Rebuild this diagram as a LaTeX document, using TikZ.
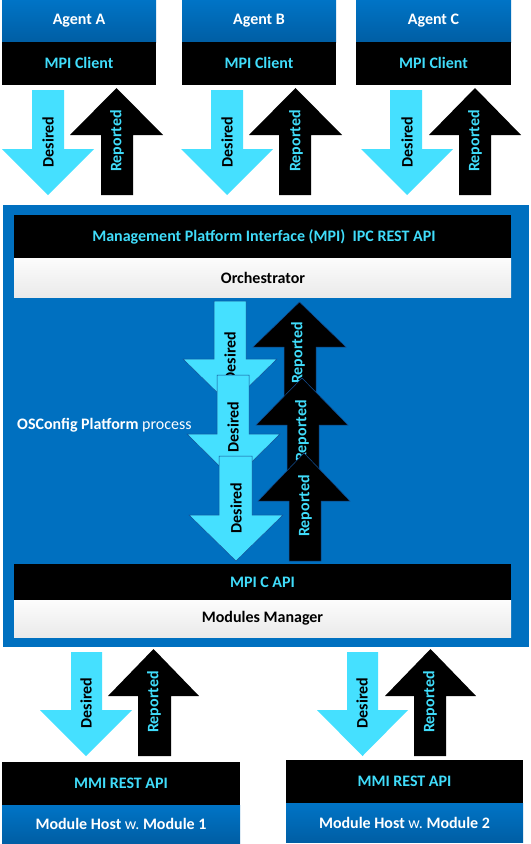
\documentclass[tikz,border=0pt]{standalone}
\usepackage{fontspec}
\setmainfont{Carlito}
\usetikzlibrary{shapes.arrows}
\definecolor{boxblueT}{RGB}{0,116,198}
\definecolor{boxblueB}{RGB}{0,94,164}
\definecolor{platblue}{RGB}{0,112,192}
\definecolor{cyanA}{RGB}{69,224,255}
\definecolor{cyanT}{RGB}{64,220,250}
\definecolor{lightT}{RGB}{252,252,252}
\definecolor{lightB}{RGB}{234,234,234}
\definecolor{edgeblue}{RGB}{20,80,150}
\newcommand{\fs}{\fontsize{16bp}{19bp}\selectfont\bfseries}
\tikzset{
  bluebox/.style={top color=boxblueT, bottom color=boxblueB, draw=none},
  blackbox/.style={fill=black, draw=none},
  lightbox/.style={top color=lightT, bottom color=lightB, draw=none},
  lbl/.style={font=\fs, inner sep=0pt},
  desired/.style={fill=cyanA},
  reported/.style={fill=black},
  arrowedge/.style={draw=edgeblue, line width=0.5pt},
  dlabel/.style={font=\fs, text=black, rotate=90, inner sep=0pt},
  rlabel/.style={font=\fs, text=cyanT, rotate=90, inner sep=0pt}
}
% block arrow: shaft x1..x2, shaft end y, head base y, head xl..xr, tip y
\newcommand{\blockarr}[9][]{%
  \path[#1] (#2,#4) -- (#3,#4) -- (#3,#5) -- (#7,#5) -- ({(#6+#7)/2},#8) -- (#6,#5) -- (#2,#5) -- cycle;}
\begin{document}
\begin{tikzpicture}[x=1bp,y=-1bp]
\useasboundingbox[fill=white] (0,0) rectangle (531,844);

% ---- top agents
\foreach \nm/\xa/\xb/\lt in {A/2/156/Agent A, B/182/336/Agent B, C/356/511/Agent C}{
  \path[bluebox] (\xa,0) rectangle (\xb,42);
  \path[blackbox] (\xa,42) rectangle (\xb,85);
  \node[lbl, text=white] (agent\nm) at ({(\xa+\xb)/2},21) {\lt};
  \node[lbl, text=cyanT] (client\nm) at ({(\xa+\xb)/2},63) {MPI Client};
}

% ---- top arrows
\blockarr[desired]{32}{64}{90}{149}{2}{94}{195}{}
\blockarr[reported]{101}{133}{195}{135}{70}{163}{88}{}
\node[dlabel] (dA) at (48,142) {Desired};
\node[rlabel] (rA) at (117,141) {Reported};

\blockarr[desired]{211}{243}{90}{149}{181}{273}{195}{}
\blockarr[reported]{279}{311}{195}{135}{249}{342}{88}{}
\node[dlabel] (dB) at (227,142) {Desired};
\node[rlabel] (rB) at (296,141) {Reported};

\blockarr[desired]{390}{422}{90}{149}{361}{453}{195}{}
\blockarr[reported]{459}{491}{195}{135}{429}{521}{88}{}
\node[dlabel] (dC) at (407,142) {Desired};
\node[rlabel] (rC) at (475,141) {Reported};

% ---- platform
\path[fill=platblue] (3,205) rectangle (529,647);
\path[blackbox] (14,215) rectangle (511,258);
\path[lightbox] (14,258) rectangle (511,297);
\node[lbl, text=cyanT] (mpi) at (264,236.5) {Management Platform Interface (MPI)\ \ IPC REST API};
\node[lbl, text=black] (orch) at (263,277.5) {Orchestrator};
\path[blackbox] (14,564) rectangle (511,600);
\path[lightbox] (14,600) rectangle (511,637);
\node[lbl, text=cyanT] (mpic) at (262.5,582) {MPI C API};
\node[lbl, text=black] (mm) at (262.5,618.5) {Modules Manager};
\node[font=\fontsize{16bp}{19bp}\selectfont, text=white, anchor=west, inner sep=0pt] (osc) at (17,425) {\textbf{OSConfig Platform} process};

% ---- middle arrows (stacked)
\blockarr[desired, arrowedge]{214}{246}{301}{359}{183}{277}{405}{}
\node[dlabel] (d1) at (230,357) {Desired};
\blockarr[reported, arrowedge]{284}{316}{424}{347}{253}{346}{302}{}
\node[rlabel] (r1) at (298,353) {Reported};
\blockarr[desired, arrowedge]{217}{249}{375}{434}{187}{280}{480}{}
\node[dlabel] (d2) at (233,427) {Desired};
\blockarr[reported, arrowedge]{287}{319}{500}{425}{256}{348}{378}{}
\node[rlabel] (r2) at (302,431) {Reported};
\blockarr[desired, arrowedge]{219}{252}{456}{515}{189}{283}{561}{}
\node[dlabel] (d3) at (236,508) {Desired};
\blockarr[reported, arrowedge]{289}{321}{561}{501}{258}{350}{453}{}
\node[rlabel] (r3) at (305,506) {Reported};

% ---- bottom arrows
\blockarr[desired]{71}{102}{652}{710}{40}{132}{756}{}
\blockarr[reported]{138}{171}{756}{696}{108}{199}{649}{}
\node[dlabel] (dM1) at (86,703) {Desired};
\node[rlabel] (rM1) at (154,702) {Reported};

\blockarr[desired]{347}{378}{652}{710}{317}{408}{756}{}
\blockarr[reported]{414}{446}{756}{696}{385}{476}{649}{}
\node[dlabel] (dM2) at (362,703) {Desired};
\node[rlabel] (rM2) at (430,702) {Reported};

% ---- bottom modules
\path[blackbox] (2,762) rectangle (240,805);
\path[bluebox] (2,805) rectangle (240,843);
\node[lbl, text=cyanT] (mmi1) at (121,783.5) {MMI REST API};
\node[lbl, text=white] (mod1) at (121,824) {Module Host \mdseries w.\ \bfseries Module 1};
\path[blackbox] (286,760) rectangle (523,803);
\path[bluebox] (286,803) rectangle (523,842);
\node[lbl, text=cyanT] (mmi2) at (404.5,781.5) {MMI REST API};
\node[lbl, text=white] (mod2) at (404.5,822.5) {Module Host \mdseries w.\ \bfseries Module 2};
\end{tikzpicture}
\end{document}
